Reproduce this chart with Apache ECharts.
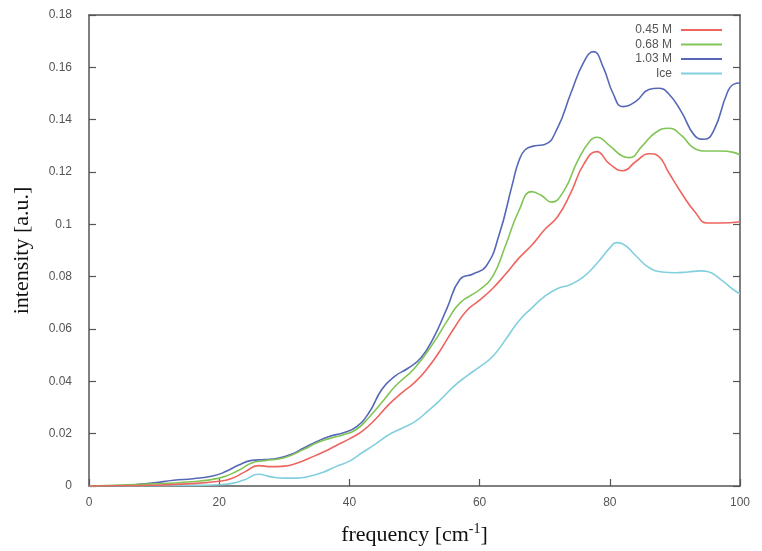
<!DOCTYPE html>
<html><head><meta charset="utf-8">
<script src="https://cdn.jsdelivr.net/npm/echarts@6/dist/echarts.min.js"></script>
<style>html,body{margin:0;padding:0;background:#fff}#c{width:762px;height:551px}</style>
</head><body><div id="c"></div>
<script>
const seriesNames = ['0.45 M', '0.68 M', '1.03 M', 'Ice'];
const seriesColors = ['#ee6560', '#80c555', '#5668b6', '#82d0de'];
const xTicks = [0, 20, 40, 60, 80, 100];
const yTicks = [0, 0.02, 0.04, 0.06, 0.08, 0.1, 0.12, 0.14, 0.16, 0.18];

const red = [[0,0],[10,0.0003],[15,0.0008],[20,0.0018],[22,0.003],[24,0.0055],[26,0.0078],[28,0.0074],[30,0.0076],[32,0.0088],[34,0.0108],[36,0.013],[38,0.0155],[40,0.018],[42,0.021],[44,0.0255],[46,0.031],[48,0.0355],[50,0.0395],[52,0.045],[54,0.052],[56,0.06],[58,0.067],[60,0.071],[62,0.0755],[64,0.081],[66,0.087],[68,0.092],[70,0.098],[72,0.103],[74,0.112],[76,0.123],[78,0.1278],[80,0.123],[82,0.1205],[84,0.124],[86,0.127],[87.5,0.126],[89,0.12],[91,0.112],[93,0.105],[95,0.1005],[97,0.1005],[100,0.101]];
const green = [[0,0],[10,0.0008],[15,0.0015],[20,0.003],[23,0.006],[25,0.0088],[27,0.0097],[30,0.0108],[33,0.014],[35,0.0165],[37,0.0182],[39,0.0195],[41,0.0215],[43,0.0262],[45,0.032],[47,0.038],[50,0.045],[53,0.055],[55,0.063],[57,0.07],[60,0.075],[62,0.08],[64,0.092],[66,0.105],[68,0.1125],[69.5,0.111],[71,0.1085],[73,0.113],[75,0.124],[77,0.132],[78,0.1333],[80,0.13],[82,0.126],[83,0.1255],[85,0.13],[87,0.135],[89,0.1367],[91,0.134],[93,0.129],[95,0.128],[97,0.128],[99,0.1275],[100,0.1265]];
const blue = [[0,0],[5,0.0002],[8,0.0007],[10,0.0012],[13,0.0022],[16,0.0028],[19,0.0038],[21,0.0055],[23,0.008],[25,0.0098],[27,0.0101],[29,0.0106],[31,0.012],[33,0.0145],[35,0.017],[37,0.019],[39,0.0203],[41,0.0225],[43,0.028],[45,0.037],[47,0.042],[49,0.045],[51,0.049],[53,0.057],[55,0.068],[57,0.079],[59,0.081],[61,0.084],[63,0.096],[65,0.115],[66,0.124],[67,0.1285],[68.5,0.13],[70,0.1305],[72,0.137],[74,0.15],[76,0.162],[77.5,0.166],[79,0.16],[80.5,0.15],[82,0.145],[84,0.147],[86,0.1515],[87.5,0.152],[89,0.15],[91,0.143],[93,0.134],[94.5,0.1325],[96,0.136],[98,0.15],[99,0.1535],[100,0.154]];
const ice = [[0,0],[15,0.0002],[20,0.0005],[22,0.001],[24,0.0025],[26,0.0045],[28,0.0035],[30,0.003],[32,0.003],[34,0.0038],[36,0.0053],[38,0.0075],[40,0.0095],[42,0.0128],[44,0.016],[46,0.0195],[48,0.022],[50,0.0245],[52,0.0285],[54,0.033],[56,0.038],[58,0.042],[60,0.0455],[62,0.0495],[64,0.056],[66,0.063],[68,0.068],[70,0.0725],[72,0.0755],[74,0.077],[76,0.08],[78,0.085],[80,0.091],[81,0.093],[82,0.0925],[84,0.088],[86,0.0835],[88,0.0818],[90,0.0815],[92,0.0818],[94,0.0822],[95,0.082],[97,0.079],[99,0.075],[100,0.0735]];
const allData = [red, green, blue, ice];

const chart = echarts.init(document.getElementById('c'));
const axisLineStyle = {color: '#555', width: 1.5};
const tickStyle = {show: true, inside: true, length: 7, lineStyle: {color: '#555', width: 1.2}};
chart.setOption({
  animation: false,
  grid: {left: 89, right: 22, top: 15, bottom: 60},
  legend: {
    orient: 'vertical', right: 35, top: 19, align: 'right',
    itemWidth: 41, itemHeight: 2, itemGap: 2.5, icon: 'rect',
    textStyle: {fontFamily: 'Liberation Sans', fontSize: 12, color: '#555', lineHeight: 12, padding: [0, 4, 0, 0]},
    data: seriesNames
  },
  xAxis: [{
    type: 'value', min: 0, max: 100, interval: 20,
    axisLine: {onZero: false, lineStyle: axisLineStyle}, axisTick: tickStyle, splitLine: {show: false},
    axisLabel: {fontFamily: 'Liberation Sans', fontSize: 12, color: '#555', margin: 11,
      formatter: v => xTicks.includes(v) ? String(v) : ''},
    name: 'frequency [cm{sup|-1}]', nameLocation: 'middle', nameGap: 36,
    nameTextStyle: {fontFamily: 'Liberation Serif', fontSize: 22, color: '#111',
      rich: {sup: {fontFamily: 'Liberation Serif', fontSize: 14, color: '#111', verticalAlign: 'top', padding: [0,0,12,0]}}}
  }, {
    type: 'value', position: 'top', min: 0, max: 100, interval: 20,
    axisLine: {show: true, onZero: false, lineStyle: axisLineStyle}, axisTick: {show: false},
    axisLabel: {show: false}, splitLine: {show: false}
  }],
  yAxis: [{
    type: 'value', min: 0, max: 0.18, interval: 0.02,
    axisLine: {show: true, onZero: false, lineStyle: axisLineStyle}, axisTick: tickStyle, splitLine: {show: false},
    axisLabel: {fontFamily: 'Liberation Sans', fontSize: 12, color: '#555', margin: 17,
      formatter: v => { const t = yTicks.find(k => Math.abs(k - v) < 1e-9); return t === undefined ? '' : String(t); }},
    name: 'intensity [a.u.]', nameLocation: 'middle', nameGap: 56, nameRotate: 90,
    nameTextStyle: {fontFamily: 'Liberation Serif', fontSize: 22, color: '#111'}
  }, {
    type: 'value', position: 'right', min: 0, max: 0.18, interval: 0.02,
    axisLine: {show: true, onZero: false, lineStyle: axisLineStyle}, axisTick: tickStyle,
    axisLabel: {show: false}, splitLine: {show: false}
  }],
  series: seriesNames.map((n, i) => ({
    name: n, type: 'line', smooth: 0.5, showSymbol: false, symbol: 'none',
    data: allData[i], color: seriesColors[i],
    lineStyle: {width: 1.6, color: seriesColors[i]}, z: 10 - i
  }))
});
</script></body></html>
